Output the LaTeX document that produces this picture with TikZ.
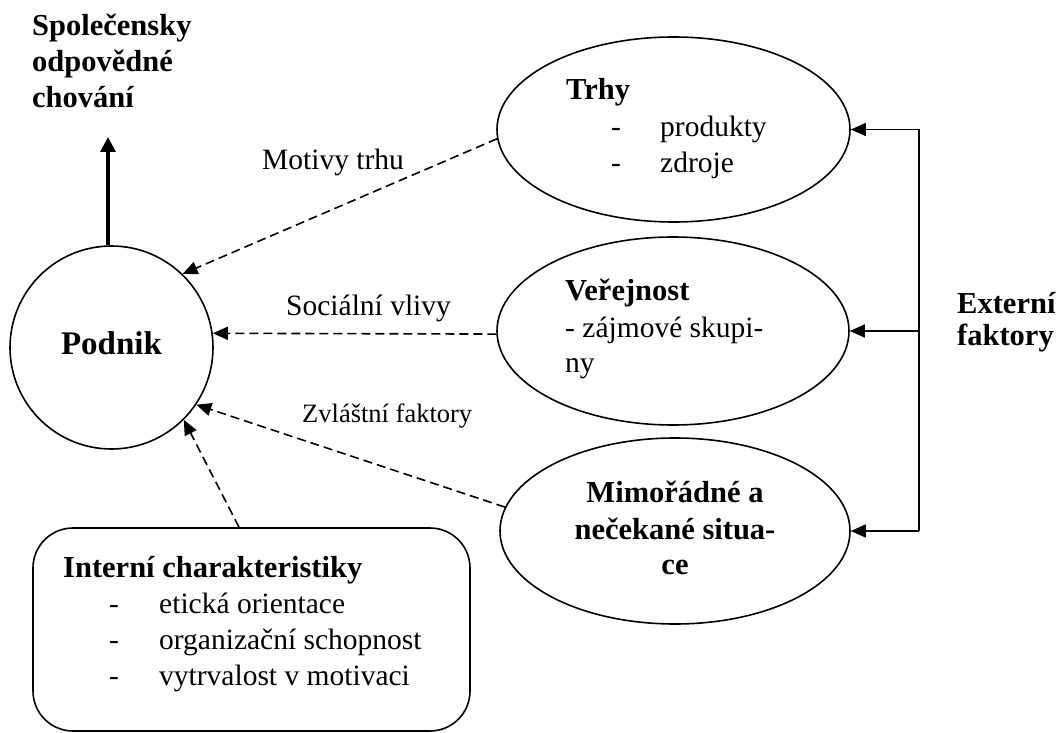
\documentclass[tikz,border=0pt]{standalone}
\usepackage{fontspec}
\setmainfont{Liberation Serif}
\usetikzlibrary{arrows.meta,shapes.geometric}
\tikzset{
  reg/.style={inner sep=0pt,anchor=base west,font=\fontsize{29.5}{36}\selectfont},
  bld/.style={inner sep=0pt,anchor=base west,font=\fontsize{30.5}{36}\selectfont\bfseries},
  small/.style={inner sep=0pt,anchor=base west,font=\fontsize{26.5}{32}\selectfont},
  oval/.style={draw,ellipse,line width=1.6pt,inner sep=0pt},
  tip/.style={-{Triangle[length=15pt,width=13pt]}},
  dasharr/.style={tip,line width=1.6pt,dash pattern=on 9pt off 5pt},
  solarr/.style={tip,line width=1.6pt},
}
\begin{document}
\begin{tikzpicture}[x=1pt,y=-1pt]
\useasboundingbox (0,0) rectangle (1061,733);
% title
\node[bld] (t1) at (32,36) {Společensky};
\node[bld] (t2) at (32,72) {odpovědné};
\node[bld] (t3) at (32,108) {chování};
% Podnik
\node[draw,circle,line width=1.6pt,minimum size=203pt,inner sep=0pt] (podnik) at (111.5,347.5) {};
\node[inner sep=0pt,anchor=base,font=\fontsize{33}{36}\selectfont\bfseries] (podniktxt) at (111.5,354) {Podnik};
\coordinate (spol) at (108,137);
\draw[-{Triangle[length=15pt,width=15pt]},line width=3.2pt] (podnik.north -| spol) -- (spol);
% ellipses
\node[oval,minimum width=353pt,minimum height=185pt] (trhy) at (673.5,129.5) {};
\node[oval,minimum width=352pt,minimum height=188pt] (ver) at (673,331) {};
\node[oval,minimum width=350pt,minimum height=186pt] (mim) at (675,531) {};
% ellipse texts
\node[bld] (trhytxt) at (566,100) {Trhy};
\node[reg] (d1) at (611,137) {-};
\node[reg] (p1) at (660,137) {produkty};
\node[reg] (d2) at (611,173) {-};
\node[reg] (p2) at (660,173) {zdroje};
\node[bld] (vertxt) at (565,300) {Veřejnost};
\node[reg] (v1) at (565,337) {- zájmové skupi-};
\node[reg] (v2) at (565,372) {ny};
\node[bld,anchor=base] (m1) at (675,502) {Mimořádné a};
\node[bld,anchor=base] (m2) at (675,539) {nečekané situa-};
\node[bld,anchor=base] (m3) at (675,574) {ce};
% external
\node[bld] (ex1) at (957,313) {Externí};
\node[bld] (ex2) at (957,345) {faktory};
\coordinate (e1) at (919,129.5);
\coordinate (e2) at (919,331);
\coordinate (e3) at (919,531);
\draw[line width=1.6pt] (e1) -- (e3);
\draw[solarr] (e1) -- (trhy.east);
\draw[solarr] (e2) -- (ver.east);
\draw[solarr] (e3) -- (mim.east);
% internal box
\node[draw,line width=1.6pt,rounded corners=40pt,minimum width=437pt,minimum height=203pt,inner sep=0pt] (intbox) at (251.5,629.5) {};
\node[bld] (ib0) at (63,577) {Interní charakteristiky};
\node[reg] (ibd1) at (109,613) {-};
\node[reg] (ib1) at (159,613) {etická orientace};
\node[reg] (ibd2) at (109,649) {-};
\node[reg] (ib2) at (159,649) {organizační schopnost};
\node[reg] (ibd3) at (109,685) {-};
\node[reg] (ib3) at (159,685) {vytrvalost v motivaci};
% dashed influences
\draw[dasharr] (trhy.183) -- (podnik.46);
\node[reg] (lm) at (262,170) {Motivy trhu};
\draw[dasharr] (ver.181) -- (podnik.8);
\node[reg] (ls) at (286,315) {Sociální vlivy};
\draw[dasharr] (mim.172) -- (podnik.-34);
\node[small] (lz) at (302,422) {Zvláštní faktory};
\draw[dasharr] ([xshift=-12.5pt]intbox.north) -- (podnik.-45);
\end{tikzpicture}
\end{document}
